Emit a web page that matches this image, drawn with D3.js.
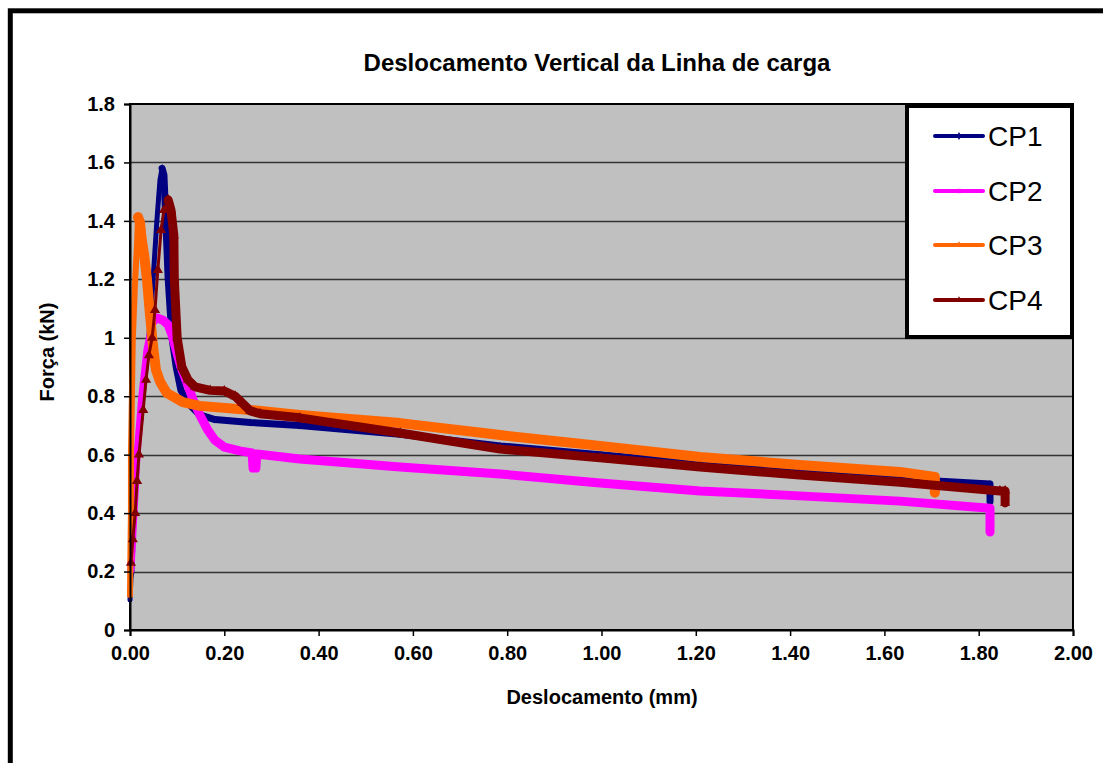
<!DOCTYPE html>
<html>
<head>
<meta charset="utf-8">
<script src="https://cdn.jsdelivr.net/npm/d3@7"></script>
<style>
  html, body { margin: 0; padding: 0; background: #fff; }
  svg { display: block; }
  text { font-family: "Liberation Sans", Arial, sans-serif; }
</style>
</head>
<body>
<svg id="chart" width="1103" height="763"></svg>
<script>
// ---------- data ----------
const seriesNames = ["CP1", "CP2", "CP3", "CP4"];
const seriesColors = ["#000080", "#FF00FF", "#FF6600", "#800000"];

const cp1X = [0, 0.002, 0.004, 0.0085, 0.015, 0.0275, 0.04, 0.049, 0.057, 0.0636, 0.068, 0.072, 0.076, 0.081, 0.089, 0.098, 0.108, 0.127, 0.148, 0.18, 0.255, 0.36, 0.573, 0.785, 0.997, 1.209, 1.42, 1.633, 1.824, 1.824];
const cp1Y = [0.103, 0.178, 0.2, 0.4, 0.6, 0.8, 1.0, 1.2, 1.4, 1.54, 1.58, 1.557, 1.4, 1.2, 1.0, 0.9, 0.82, 0.77, 0.736, 0.72, 0.71, 0.70, 0.67, 0.63, 0.60, 0.57, 0.544, 0.517, 0.50, 0.44];

const cp2X = [0.002, 0.0085, 0.015, 0.025, 0.036, 0.047, 0.057, 0.07, 0.081, 0.089, 0.098, 0.108, 0.121, 0.134, 0.148, 0.165, 0.18, 0.2, 0.233, 0.259, 0.261, 0.267, 0.269, 0.36, 0.573, 0.785, 0.997, 1.209, 1.42, 1.633, 1.824, 1.824];
const cp2Y = [0.205, 0.4, 0.6, 0.8, 0.96, 1.044, 1.068, 1.06, 1.044, 1.01, 0.958, 0.9, 0.845, 0.787, 0.736, 0.684, 0.65, 0.626, 0.613, 0.606, 0.554, 0.554, 0.602, 0.585, 0.558, 0.534, 0.503, 0.476, 0.459, 0.441, 0.417, 0.335];

const cp3X = [0, 0.0005, 0.002, 0.002, 0.004, 0.006, 0.011, 0.015, 0.017, 0.021, 0.025, 0.03, 0.036, 0.042, 0.049, 0.055, 0.064, 0.078, 0.112, 0.148, 0.255, 0.36, 0.573, 0.785, 0.997, 1.209, 1.42, 1.633, 1.707, 1.707];
const cp3Y = [0.12, 0.2, 0.41, 0.6, 0.8, 1.0, 1.2, 1.32, 1.413, 1.396, 1.335, 1.283, 1.2, 1.085, 0.968, 0.89, 0.849, 0.811, 0.78, 0.767, 0.753, 0.736, 0.708, 0.667, 0.63, 0.592, 0.565, 0.541, 0.524, 0.47];

const cp4X = [0.002, 0.006, 0.011, 0.015, 0.019, 0.028, 0.034, 0.04, 0.047, 0.053, 0.059, 0.066, 0.072, 0.081, 0.087, 0.093, 0.094, 0.1, 0.11, 0.123, 0.138, 0.17, 0.2, 0.223, 0.238, 0.255, 0.276, 0.36, 0.573, 0.785, 0.997, 1.209, 1.42, 1.633, 1.845, 1.856, 1.856];
const cp4Y = [0.23, 0.31, 0.4, 0.51, 0.6, 0.753, 0.856, 0.94, 1.0, 1.095, 1.232, 1.369, 1.437, 1.472, 1.437, 1.35, 1.2, 1.0, 0.9, 0.856, 0.832, 0.82, 0.818, 0.8, 0.777, 0.75, 0.74, 0.726, 0.674, 0.619, 0.589, 0.558, 0.53, 0.506, 0.476, 0.476, 0.435];

const xTickValues = [0, 0.2, 0.4, 0.6, 0.8, 1.0, 1.2, 1.4, 1.6, 1.8, 2.0];
const xTickLabels = ["0.00", "0.20", "0.40", "0.60", "0.80", "1.00", "1.20", "1.40", "1.60", "1.80", "2.00"];
const yTickValues = [0, 0.2, 0.4, 0.6, 0.8, 1.0, 1.2, 1.4, 1.6, 1.8];
const yTickLabels = ["0", "0.2", "0.4", "0.6", "0.8", "1", "1.2", "1.4", "1.6", "1.8"];

const chartTitle = "Deslocamento Vertical da Linha de carga";
const xTitle = "Deslocamento (mm)";
const yTitle = "Força (kN)";

// ---------- build ----------
const seriesX = [cp1X, cp2X, cp3X, cp4X];
const seriesY = [cp1Y, cp2Y, cp3Y, cp4Y];
const series = seriesNames.map((name, i) => ({
  name, color: seriesColors[i],
  points: seriesX[i].map((x, j) => ({ x, y: seriesY[i][j] }))
}));

const svg = d3.select("#chart");
const plot = { left: 130, right: 1073, top: 104, bottom: 630 };

// outer frame
svg.append("rect").attr("x", 10.3).attr("y", 10.8).attr("width", 1300).attr("height", 1000)
  .attr("fill", "#fff").attr("stroke", "#000").attr("stroke-width", 5);

const x = d3.scaleLinear().domain([0, 2]).range([plot.left, plot.right]);
const y = d3.scaleLinear().domain([0, 1.8]).range([plot.bottom, plot.top]);

// plot area
svg.append("rect").attr("x", plot.left).attr("y", plot.top)
  .attr("width", plot.right - plot.left).attr("height", plot.bottom - plot.top)
  .attr("fill", "#C0C0C0");

// gridlines
svg.append("g").selectAll("line").data(yTickValues.filter(v => v > 0 && v < 1.8)).join("line")
  .attr("x1", plot.left).attr("x2", plot.right)
  .attr("y1", d => Math.round(y(d)) + 0.5).attr("y2", d => Math.round(y(d)) + 0.5)
  .attr("stroke", "#333").attr("stroke-width", 1.6);

// plot border
svg.append("rect").attr("x", plot.left).attr("y", plot.top)
  .attr("width", plot.right - plot.left).attr("height", plot.bottom - plot.top)
  .attr("fill", "none").attr("stroke", "#000").attr("stroke-width", 2);

// series
const line = d3.line().x(d => x(d.x)).y(d => y(d.y));
const widths = [7, 9, 10, 9];       // noisy plateau band
const riseWidths = [5, 7, 6, 3];    // steep loading branch
const symbols = [d3.symbolDiamond, d3.symbolSquare, d3.symbolTriangle, d3.symbolTriangle];
const symSizes = [18, 22, 18, 45];

const gSeries = svg.append("g");
series.forEach((s, i) => {
  const g = gSeries.append("g");
  const peak = d3.maxIndex(s.points, d => d.y);
  g.append("path").datum(s.points.slice(0, peak + 1)).attr("d", line)
    .attr("fill", "none").attr("stroke", s.color).attr("stroke-width", riseWidths[i])
    .attr("stroke-linejoin", "round").attr("stroke-linecap", "round");
  g.append("path").datum(s.points.slice(peak)).attr("d", line)
    .attr("fill", "none").attr("stroke", s.color).attr("stroke-width", widths[i])
    .attr("stroke-linejoin", "round").attr("stroke-linecap", "round");
  g.selectAll("path.m").data(s.points).join("path").attr("class", "m")
    .attr("d", d3.symbol().type(symbols[i]).size(symSizes[i]))
    .attr("transform", d => `translate(${x(d.x)},${y(d.y)})`)
    .attr("fill", s.color);
});

// axes
const xAxis = d3.axisBottom(x).tickValues(xTickValues).tickFormat((d, i) => xTickLabels[i]).tickSize(6).tickPadding(10);
const yAxis = d3.axisLeft(y).tickValues(yTickValues).tickFormat((d, i) => yTickLabels[i]).tickSize(6).tickPadding(9);

const gx = svg.append("g").attr("transform", `translate(0,${plot.bottom})`).call(xAxis);
const gy = svg.append("g").attr("transform", `translate(${plot.left},0)`).call(yAxis);
[gx, gy].forEach(g => {
  g.select(".domain").attr("stroke", "#000").attr("stroke-width", 2);
  g.selectAll(".tick line").attr("stroke", "#000").attr("stroke-width", 1.5);
  g.selectAll(".tick text").attr("fill", "#000")
    .style("font-family", '"Liberation Sans", Arial, sans-serif')
    .style("font-size", "20px").style("font-weight", "bold");
});

// titles
svg.append("text").attr("x", 597).attr("y", 71).attr("text-anchor", "middle")
  .style("font-size", "24px").style("font-weight", "bold").text(chartTitle);
svg.append("text").attr("x", 602).attr("y", 704).attr("text-anchor", "middle")
  .style("font-size", "20px").style("font-weight", "bold").text(xTitle);
svg.append("text").attr("transform", "translate(54,352) rotate(-90)").attr("text-anchor", "middle")
  .style("font-size", "20px").style("font-weight", "bold").text(yTitle);

// legend
const lg = svg.append("g");
lg.append("rect").attr("x", 907).attr("y", 106).attr("width", 165).attr("height", 231)
  .attr("fill", "#fff").attr("stroke", "#000").attr("stroke-width", 4);
const legY = [136, 191, 245, 300];
series.forEach((s, i) => {
  lg.append("line").attr("x1", 935).attr("x2", 983).attr("y1", legY[i]).attr("y2", legY[i])
    .attr("stroke", s.color).attr("stroke-width", 4).attr("stroke-linecap", "round");
  lg.append("path").attr("d", d3.symbol().type(symbols[i]).size(18)())
    .attr("transform", `translate(959,${legY[i]})`).attr("fill", s.color);
  lg.append("text").attr("x", 988).attr("y", legY[i]).attr("dy", "0.36em")
    .style("font-size", "28px").attr("fill", "#000").text(s.name);
});
</script>
</body>
</html>
